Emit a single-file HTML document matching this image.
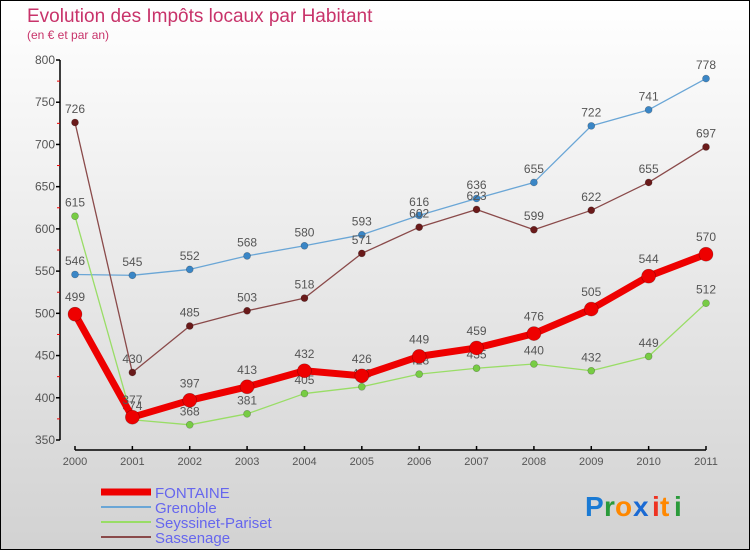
<!DOCTYPE html>
<html><head><meta charset="utf-8"><style>
html,body{margin:0;padding:0;}
body{width:750px;height:550px;overflow:hidden;font-family:"Liberation Sans",sans-serif;}
#wrap{position:relative;width:748px;height:548px;border:1px solid #000;background:linear-gradient(#ffffff,#d2d2d2);}
</style></head><body>
<div id="wrap">
<svg id="chart" width="748" height="548" viewBox="1 1 748 548" style="position:absolute;left:0;top:0">
<text x="27" y="22" font-size="19" fill="#c8336a">Evolution des Impôts locaux par Habitant</text>
<text x="27" y="39" font-size="12" fill="#c8336a">(en € et par an)</text>
<g id="axes"></g><g id="series"></g><g id="legend"></g>
<g font-size="28" font-weight="bold" font-family="Liberation Sans, sans-serif">
<text x="585" y="516" fill="#1a7ad4">P</text><text x="604" y="516" fill="#2a9a3a">r</text><text x="615" y="516" fill="#ff8800">o</text><text x="633" y="516" fill="#1a6ad4">x</text><text x="652" y="516" fill="#ee3322">i</text><text x="660" y="516" fill="#ff8800">t</text><text x="674" y="516" fill="#2a9a3a">i</text>
</g>
</svg>
</div>
<script>
const years=[2000,2001,2002,2003,2004,2005,2006,2007,2008,2009,2010,2011];
const fontaine=[499,377,397,413,432,426,449,459,476,505,544,570];
const grenoble=[546,545,552,568,580,593,616,636,655,722,741,778];
const seyssinet=[615,374,368,381,405,413,428,435,440,432,449,512];
const sassenage=[726,430,485,503,518,571,602,623,599,622,655,697];
const yTicks=[350,400,450,500,550,600,650,700,750,800];
const NS="http://www.w3.org/2000/svg";
const x=i=>75+i*(631/11);
const y=v=>60+(800-v)*(380/450);
function mk(tag,attrs,parent){const e=document.createElementNS(NS,tag);for(const k in attrs)e.setAttribute(k,attrs[k]);parent.appendChild(e);return e;}
const axes=document.getElementById('axes');
let e=mk('line',{x1:60,y1:60,x2:60,y2:440,stroke:'#000','stroke-width':1.5},axes);


yTicks.forEach(v=>{
 mk('line',{x1:56,x2:60,y1:y(v),y2:y(v),stroke:'#000','stroke-width':1.5},axes);
 if(v<800) mk('line',{x1:57,x2:60,y1:y(v+25),y2:y(v+25),stroke:'#e00','stroke-width':1},axes);
 const t=mk('text',{x:55,y:y(v)+4,'text-anchor':'end','font-size':12,fill:'#555'},axes);
 t.textContent=v;
 
 
});
e=mk('line',{x1:75,y1:450,x2:706,y2:450,stroke:'#000','stroke-width':1.5},axes);


years.forEach((yr,i)=>{
 mk('line',{x1:x(i),x2:x(i),y1:446,y2:450,stroke:'#000','stroke-width':1.5},axes);
 const t=mk('text',{x:x(i),y:465,'text-anchor':'middle','font-size':11,fill:'#555'},axes);
 t.textContent=yr;
 
 
});
const ser=document.getElementById('series');
const defs=[
 {d:grenoble,c:'#6aa6d6',m:'#3a86c6',w:1.3,r:3.5,n:'grenoble'},
 {d:seyssinet,c:'#99dd66',m:'#77cc44',w:1.3,r:3.5,n:'seyssinet-pariset'},
 {d:sassenage,c:'#8a4a4a',m:'#6a1a1a',w:1.3,r:3.5,n:'sassenage'},
 {d:fontaine,c:'#ee0000',m:'#ee0000',w:7,r:7,n:'fontaine'}
];
defs.forEach(s=>{
 const g=mk('g',{},ser);
 
 
 mk('polyline',{points:s.d.map((v,i)=>x(i)+','+y(v)).join(' '),fill:'none',stroke:s.c,'stroke-width':s.w,'stroke-linejoin':'round'},g);
 s.d.forEach((v,i)=>{
  const c=mk('circle',{cx:x(i),cy:y(v),r:s.r,fill:s.m,stroke:'rgba(0,0,0,0.3)','stroke-width':0.6},g);
  
  
  const t=mk('text',{x:x(i),y:y(v)-(s.r+6),'text-anchor':'middle','font-size':12,fill:'#555'},g);
  t.textContent=v;
  
  
 });
});
const leg=document.getElementById('legend');
const legItems=[['FONTAINE','#ee0000',7],['Grenoble','#6aa6d6',2],['Seyssinet-Pariset','#99dd66',2],['Sassenage','#8a4a4a',2]];
legItems.forEach((it,k)=>{
 const yy=492+k*15;
 const g=mk('g',{},leg);
 
 
 mk('line',{x1:101,x2:151,y1:yy,y2:yy,stroke:it[1],'stroke-width':it[2]},g);
 const t=mk('text',{x:155,y:yy+6,'font-size':15,fill:'#6666ee'},g);
 t.textContent=it[0];
});
</script>
</body></html>
